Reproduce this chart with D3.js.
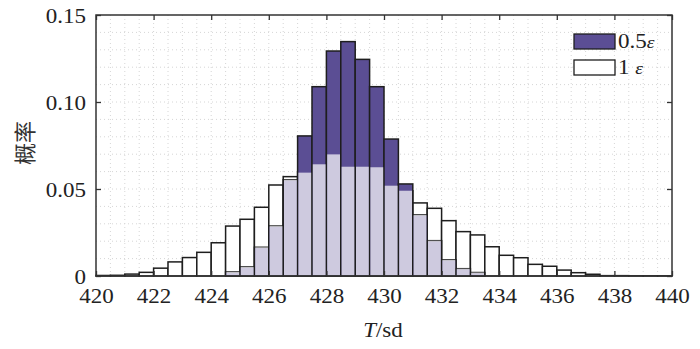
<!DOCTYPE html>
<html><head><meta charset="utf-8">
<script src="https://cdn.jsdelivr.net/npm/d3@7"></script>
<style>html,body{margin:0;padding:0;background:#fff;}svg{display:block;}</style>
</head><body>
<svg id="c" width="700" height="349"></svg>
<script>
// bin start positions (bin width 0.5)
const binStarts = [420,420.5,421,421.5,422,422.5,423,423.5,424,424.5,425,425.5,426,426.5,427,427.5,428,428.5,429,429.5,
                   430,430.5,431,431.5,432,432.5,433,433.5,434,434.5,435,435.5,436,436.5,437,437.5,438,438.5,439,439.5];
const binWidth = 0.5;
// probability, 1ε
const eps1 = [0.0003,0.0004,0.0011,0.0021,0.0045,0.0081,0.0106,0.0136,0.0191,0.0287,
              0.0326,0.0395,0.0523,0.0571,0.0594,0.0642,0.0699,0.0628,0.0628,0.0625,
              0.0519,0.0490,0.0420,0.0389,0.0318,0.0255,0.0236,0.0168,0.0119,0.0105,
              0.0067,0.0056,0.0034,0.0019,0.0010,0.0002,0.0002,0.0001,0.0001,0.0001];
// probability, 0.5ε
const eps05 = [0,0,0,0,0,0,0,0,0,0.0023,
               0.0052,0.0165,0.0287,0.0553,0.0805,0.1088,0.1293,0.1347,0.1245,0.1088,
               0.0787,0.0529,0.0351,0.0203,0.0093,0.0042,0.0020,0,0,0,
               0,0,0,0,0,0,0,0,0,0];
const xTicks = [420,422,424,426,428,430,432,434,436,438,440];
const yTicks = [0,0.05,0.10,0.15];
const yTickLabels = ["0","0.05","0.10","0.15"];
const xGrid = binStarts.slice(1);
const yGrid = [0.01,0.02,0.03,0.04,0.05,0.06,0.07,0.08,0.09,0.10,0.11,0.12,0.13,0.14];
const seriesNames = ["0.5", "1 "];

const L=96, R=672, T=15, B=276;
const x = d3.scaleLinear().domain([420,440]).range([L,R]);
const y = d3.scaleLinear().domain([0,0.15]).range([B,T]);
const svg = d3.select("#c");
const serif = "'Liberation Serif','Times New Roman',serif";
const SX = 1.15;

// grid
const g = svg.append("g");
g.selectAll(".vg").data(xGrid).join("line")
  .attr("x1",d=>x(d)).attr("x2",d=>x(d)).attr("y1",T).attr("y2",B)
  .attr("stroke","#d6d6d6").attr("stroke-width",1).attr("stroke-dasharray","1,3");
g.selectAll(".hg").data(yGrid).join("line")
  .attr("y1",d=>y(d)).attr("y2",d=>y(d)).attr("x1",L).attr("x2",R)
  .attr("stroke","#d6d6d6").attr("stroke-width",1).attr("stroke-dasharray","1,3");

const bins = binStarts.map((s,i)=>({s, a:eps1[i], b:eps05[i]}));
const purple = "#5b4e94";
const edge = "#1e1e1e";
// 1ε bars (white)
svg.append("g").selectAll("rect").data(bins.filter(d=>d.a>0)).join("rect")
  .attr("x",d=>x(d.s)).attr("width",d=>x(d.s+binWidth)-x(d.s))
  .attr("y",d=>y(d.a)).attr("height",d=>y(0)-y(d.a))
  .attr("fill","#fff").attr("stroke",edge).attr("stroke-width",1.5);
// 0.5ε bars (purple)
svg.append("g").selectAll("rect").data(bins.filter(d=>d.b>0)).join("rect")
  .attr("x",d=>x(d.s)).attr("width",d=>x(d.s+binWidth)-x(d.s))
  .attr("y",d=>y(d.b)).attr("height",d=>y(0)-y(d.b))
  .attr("fill",purple).attr("stroke",edge).attr("stroke-width",1.5);
// overlap (semi-transparent white of 1ε over purple)
svg.append("g").selectAll("rect").data(bins.filter(d=>d.b>0)).join("rect")
  .attr("x",d=>x(d.s)+0.8).attr("width",d=>x(d.s+binWidth)-x(d.s)-1.6)
  .attr("y",d=>y(Math.min(d.a,d.b))).attr("height",d=>y(0)-y(Math.min(d.a,d.b))-0.8)
  .attr("fill","#fff").attr("fill-opacity",0.7);

// axes
const xb = svg.append("g").attr("transform",`translate(0,${B})`)
  .call(d3.axisBottom(x).tickValues(xTicks).tickSizeInner(-5).tickSizeOuter(0).tickPadding(0).tickFormat(d3.format("d")));
const xt = svg.append("g").attr("transform",`translate(0,${T})`)
  .call(d3.axisTop(x).tickValues(xTicks).tickSizeInner(-5).tickSizeOuter(0).tickFormat(""));
const yl = svg.append("g").attr("transform",`translate(${L},0)`)
  .call(d3.axisLeft(y).tickValues(yTicks).tickSizeInner(-5).tickSizeOuter(0).tickPadding(0).tickFormat((d,i)=>yTickLabels[i]));
const yr = svg.append("g").attr("transform",`translate(${R},0)`)
  .call(d3.axisRight(y).tickValues(yTicks).tickSizeInner(-5).tickSizeOuter(0).tickFormat(""));
[xb,xt,yl,yr].forEach(a=>{a.select(".domain").remove(); a.selectAll(".tick line").attr("stroke","#333").attr("stroke-width",1.3);});
xb.selectAll(".tick text").attr("font-family",serif).attr("font-size",20).attr("fill","#222")
  .attr("dy",null).attr("y",0).attr("transform",`translate(0,27) scale(${SX},1)`);
yl.selectAll(".tick text").attr("font-family",serif).attr("font-size",20).attr("fill","#222")
  .attr("x",0).attr("dy","0.35em").attr("transform",`translate(-10,0) scale(${SX},1)`);

// frame
svg.append("rect").attr("x",L).attr("y",T).attr("width",R-L).attr("height",B-T)
  .attr("fill","none").attr("stroke","#333").attr("stroke-width",1.5);

// legend
const leg = svg.append("g");
const legItems = [{name:seriesNames[0], fill:purple, y:34},{name:seriesNames[1], fill:"#fff", y:60}];
legItems.forEach(it=>{
  leg.append("rect").attr("x",574).attr("y",it.y).attr("width",41).attr("height",15)
    .attr("fill",it.fill).attr("stroke",edge).attr("stroke-width",1.3);
  const t = leg.append("text").attr("transform",`translate(618,${it.y+14}) scale(${SX},1)`)
    .attr("font-family",serif).attr("font-size",20).attr("fill","#222");
  t.append("tspan").text(it.name);
  t.append("tspan").attr("font-style","italic").attr("font-size",17).text("ε");
});

// axis titles
const xtitle = svg.append("text").attr("transform",`translate(383,337) scale(${SX},1)`)
  .attr("text-anchor","middle").attr("font-family",serif).attr("font-size",20).attr("fill","#222");
xtitle.append("tspan").attr("font-style","italic").text("T");
xtitle.append("tspan").text("/sd");
svg.append("text").attr("transform","translate(33,143) rotate(-90)")
  .attr("text-anchor","middle").attr("font-family","'Noto Sans CJK SC',sans-serif").attr("font-size",22)
  .attr("fill","#333").text("概率");
</script>
</body></html>
